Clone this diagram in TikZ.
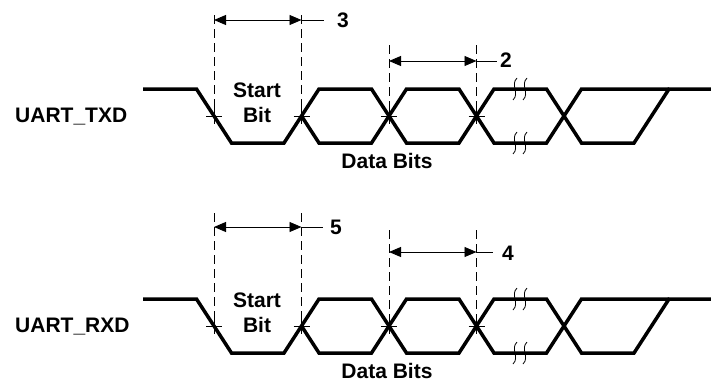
\documentclass[tikz,border=0pt]{standalone}
\usepackage{fontspec}
\setmainfont{Liberation Sans}
\usetikzlibrary{arrows.meta}
\tikzset{
  sig/.style={line width=3.5pt, line join=miter},
  dimarrow/.style={line width=0.9pt, {Triangle[length=12pt,width=10pt]}-{Triangle[length=12pt,width=10pt]}},
  guide/.style={line width=0.9pt, dash pattern=on 9pt off 5pt},
  thinline/.style={line width=0.9pt},
  lbl/.style={font=\fontsize{21}{25}\selectfont\bfseries, inner sep=0pt},
  brk/.style={line width=0.8pt}
}
\newcommand\uartwave[3]{%
  \begin{scope}[shift={(0,#1)}]
    \draw[sig] (143,89) -- (196.5,89) -- (231.5,143) -- (284,143) -- (319,89) -- (371.5,89)
      -- (406.5,143) -- (459,143) -- (494,89) -- (546.5,89) -- (581.5,143) -- (634,143)
      -- (669,89) -- (711,89);
    \draw[sig] (301.5,116) -- (319,143) -- (371.5,143) -- (406.5,89) -- (459,89) -- (494,143)
      -- (546.5,143) -- (581.5,89) -- (669,89);
    \foreach \x in {214,301.5,389,476.5}{
      \draw[thinline] (\x-8,116) -- (\x+8,116) (\x,108) -- (\x,124);
    }
    \foreach \x in {515,525}{
      \foreach \y in {89,143}{
        \draw[brk] (\x+2,\y-11) .. controls (\x-5,\y-4) and (\x+5,\y+4) .. (\x-2,\y+11);
      }
    }
    \node[lbl, anchor=base west] (#2name) at (15,122) {#3};
    \node[lbl, anchor=base] (#2start) at (257,97) {Start};
    \node[lbl, anchor=base] (#2bit) at (257,122) {Bit};
    \node[lbl, anchor=base] (#2data) at (387,168) {Data Bits};
  \end{scope}
}
\begin{document}
\begin{tikzpicture}[x=1pt,y=-1pt]
\useasboundingbox (0,0) rectangle (711,381);
\uartwave{0}{t}{UART\_TXD}
\uartwave{210}{r}{UART\_RXD}

% top dimension 3
\coordinate (a1t) at (214,15);   \coordinate (a1b) at (214,116);
\coordinate (a2t) at (301.5,15); \coordinate (a2b) at (301.5,116);
\coordinate (a1m) at (214,20);   \coordinate (a2m) at (301.5,20);
\coordinate (a3e) at (324,20);
\draw[guide] (a1t) -- (a1b);
\draw[guide] (a2t) -- (a2b);
\draw[dimarrow] (a1m) -- (a2m);
\draw[thinline] (a2m) -- (a3e);
\node[lbl, anchor=west] (n3) at (337,20) {3};

% top dimension 2
\coordinate (b1t) at (389,45);   \coordinate (b1b) at (389,116);
\coordinate (b2t) at (476.5,45); \coordinate (b2b) at (476.5,116);
\coordinate (b1m) at (389,61);   \coordinate (b2m) at (476.5,61);
\coordinate (b3e) at (497,61);
\draw[guide] (b1t) -- (b1b);
\draw[guide] (b2t) -- (b2b);
\draw[dimarrow] (b1m) -- (b2m);
\draw[thinline] (b2m) -- (b3e);
\node[lbl, anchor=west] (n2) at (500,60) {2};

% bottom dimension 5
\coordinate (c1t) at (214,213);   \coordinate (c1b) at (214,326);
\coordinate (c2t) at (301.5,213); \coordinate (c2b) at (301.5,326);
\coordinate (c1m) at (214,227);   \coordinate (c2m) at (301.5,227);
\coordinate (c3e) at (323,227);
\draw[guide] (c1t) -- (c1b);
\draw[guide] (c2t) -- (c2b);
\draw[dimarrow] (c1m) -- (c2m);
\draw[thinline] (c2m) -- (c3e);
\node[lbl, anchor=west] (n5) at (330,227) {5};

% bottom dimension 4
\coordinate (d1t) at (389,230);   \coordinate (d1b) at (389,326);
\coordinate (d2t) at (476.5,230); \coordinate (d2b) at (476.5,326);
\coordinate (d1m) at (389,252);   \coordinate (d2m) at (476.5,252);
\coordinate (d3e) at (493,252);
\draw[guide] (d1t) -- (d1b);
\draw[guide] (d2t) -- (d2b);
\draw[dimarrow] (d1m) -- (d2m);
\draw[thinline] (d2m) -- (d3e);
\node[lbl, anchor=west] (n4) at (502,253) {4};
\end{tikzpicture}
\end{document}
